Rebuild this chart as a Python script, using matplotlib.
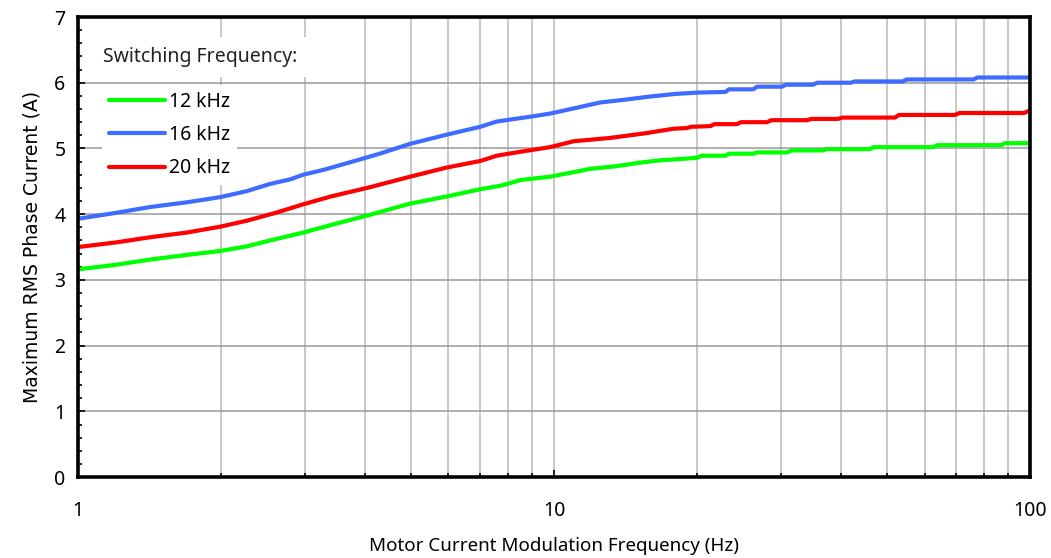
import matplotlib
matplotlib.use("Agg")
import matplotlib.pyplot as plt
from matplotlib.ticker import FixedLocator, NullFormatter, MultipleLocator

plt.rcParams['font.family'] = ['Noto Sans', 'DejaVu Sans']

series_names = ["12 kHz", "16 kHz", "20 kHz"]
series_colors = ["#00ff00", "#3d6cff", "#ff0000"]

# 12 kHz
freq_12 = [1, 1.2, 1.42, 1.69, 1.99, 2.26, 2.53, 2.97, 3.5, 4.1, 4.98, 5.95, 7.0, 7.8, 8.5, 9.8, 11.0, 11.9,
           13.5, 15.0, 16.7, 18.5, 20.0, 20.4, 22.9, 23.3, 26.2, 26.7, 30.9, 31.5, 36.7, 37.4, 46.0, 46.9,
           62.5, 63.8, 87.0, 88.5, 100]
cur_12 = [3.16, 3.23, 3.31, 3.38, 3.44, 3.51, 3.60, 3.72, 3.86, 3.99, 4.16, 4.27, 4.38, 4.44, 4.52, 4.57, 4.64, 4.69,
          4.73, 4.78, 4.82, 4.84, 4.86, 4.89, 4.89, 4.92, 4.92, 4.94, 4.94, 4.97, 4.97, 4.99, 4.99, 5.02,
          5.02, 5.05, 5.05, 5.08, 5.08]

# 16 kHz
freq_16 = [1, 1.2, 1.42, 1.69, 1.99, 2.26, 2.53, 2.79, 2.97, 3.3, 3.73, 4.3, 4.98, 5.95, 7.0, 7.58, 9.04, 9.8,
           11.0, 12.5, 14.0, 15.9, 18.0, 20.0, 22.9, 23.3, 26.2, 26.7, 30.1, 30.7, 35.0, 35.7, 42.0, 42.8,
           54.0, 55.0, 76.0, 77.5, 100]
cur_16 = [3.93, 4.02, 4.11, 4.18, 4.26, 4.35, 4.46, 4.53, 4.60, 4.68, 4.79, 4.92, 5.07, 5.21, 5.33, 5.41, 5.49, 5.53,
          5.61, 5.70, 5.74, 5.79, 5.83, 5.85, 5.86, 5.90, 5.90, 5.94, 5.94, 5.97, 5.97, 6.00, 6.00, 6.02,
          6.02, 6.05, 6.05, 6.08, 6.08]

# 20 kHz
freq_20 = [1, 1.2, 1.42, 1.69, 1.99, 2.26, 2.6, 2.97, 3.4, 4.1, 4.98, 5.95, 7.0, 7.58, 8.5, 9.8, 11.0, 13.1,
           15.5, 17.8, 19.0, 19.4, 21.3, 21.7, 24.2, 24.7, 28.0, 28.6, 34.0, 34.7, 39.5, 40.3, 52.0, 53.0,
           69.5, 71.0, 97.0, 100]
cur_20 = [3.50, 3.57, 3.65, 3.72, 3.81, 3.90, 4.02, 4.15, 4.27, 4.41, 4.57, 4.71, 4.81, 4.89, 4.95, 5.02, 5.11, 5.16,
          5.23, 5.30, 5.31, 5.33, 5.34, 5.37, 5.37, 5.40, 5.40, 5.43, 5.43, 5.45, 5.45, 5.47, 5.47, 5.51,
          5.51, 5.54, 5.54, 5.58]

x_ticks = [1, 10, 100]
x_tick_labels = ["1", "10", "100"]
y_ticks = [0, 1, 2, 3, 4, 5, 6, 7]

fig = plt.figure(figsize=(10.51, 5.58), dpi=100)
ax = fig.add_axes([0.0742, 0.145, 0.906, 0.8245])

lines = []
for fx, cy, name, col in zip([freq_12, freq_16, freq_20], [cur_12, cur_16, cur_20], series_names, series_colors):
    ln, = ax.plot(fx, cy, color=col, lw=3.0, label=name, solid_capstyle='round', zorder=3)
    lines.append(ln)

ax.set_xscale('log')
ax.set_xlim(1, 100)
ax.set_ylim(0, 7)
ax.set_xticks(x_ticks)
ax.set_xticklabels(x_tick_labels)
ax.xaxis.set_minor_locator(FixedLocator([m * d for d in (1, 10) for m in range(2, 10)]))
ax.xaxis.set_minor_formatter(NullFormatter())
ax.set_yticks(y_ticks)
ax.yaxis.set_minor_locator(MultipleLocator(0.2))

ax.grid(which='major', axis='y', color='#999999', lw=1.1, zorder=1)
ax.grid(which='both', axis='x', color='#c4c4c4', lw=1.3, zorder=1)

ax.tick_params(axis='both', which='major', direction='in', length=5, width=1.2, labelsize=14, color='black')
ax.tick_params(axis='both', which='minor', direction='in', length=3, width=1.2, color='black')
ax.tick_params(axis='x', which='major', pad=17)
ax.tick_params(axis='y', which='major', pad=9)

for s in ax.spines.values():
    s.set_linewidth(2.6)
    s.set_color('black')
    s.set_zorder(5)

ax.set_xlabel("Motor Current Modulation Frequency (Hz)", fontsize=13.5, labelpad=12)
ax.set_ylabel("Maximum RMS Phase Current (A)", fontsize=13.5, labelpad=9, family=['DejaVu Sans'])

ax.text(0.026, 0.913, "Switching Frequency:", transform=ax.transAxes, fontsize=14, va='center', ha='left',
        color='#222222',
        bbox=dict(facecolor='white', edgecolor='none', boxstyle='square,pad=0.5'), zorder=4)

leg = ax.legend(handles=lines, loc='upper left', bbox_to_anchor=(0.015, 0.873), frameon=True, fontsize=14,
                handlelength=2.9, handletextpad=0.22, labelspacing=0.68, borderpad=0.35, fancybox=False)
leg.get_frame().set_facecolor('white')
leg.get_frame().set_edgecolor('none')
leg.get_frame().set_alpha(1)
leg.set_zorder(4)

fig.savefig("out.png", dpi=100)
